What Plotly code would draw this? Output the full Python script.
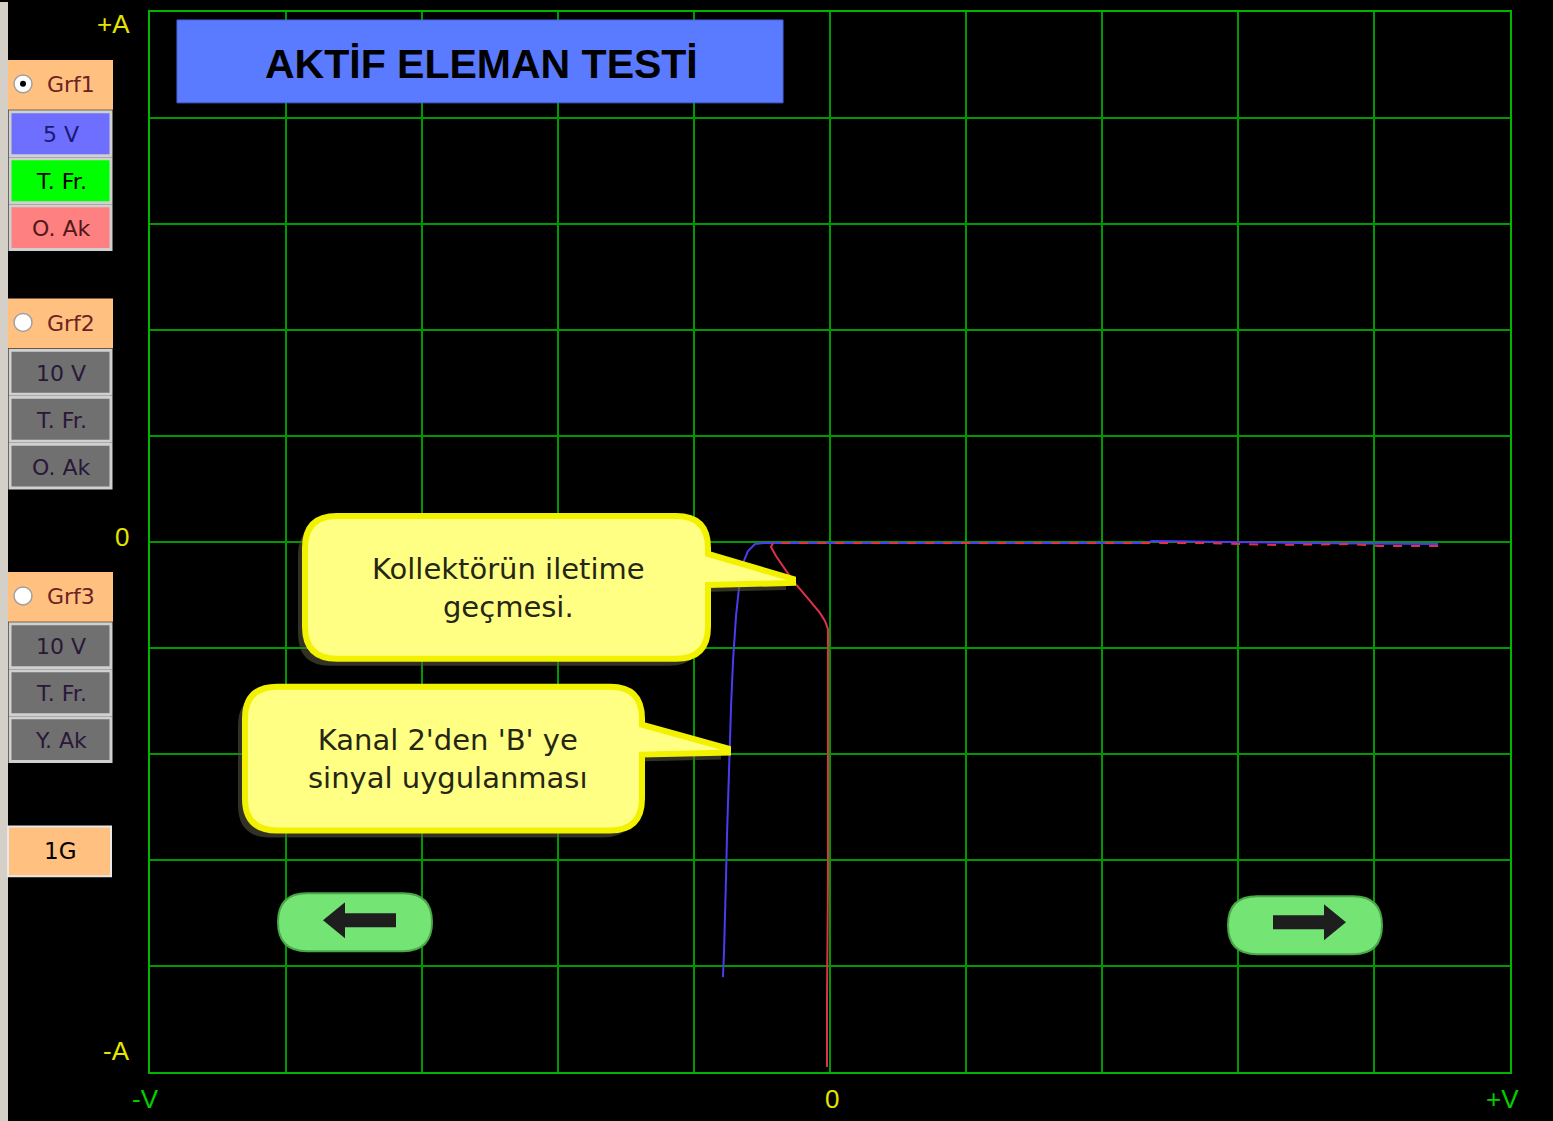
import plotly.graph_objects as go

# ---------------- data (in screen divisions: V / div, A / div) ----------------
blue_v = [4.471, 3.456, 2.368, 2.324, 1.25, 0.515, -0.221, -0.478, -0.551, -0.603, -0.640,
          -0.669, -0.691, -0.706, -0.713, -0.728, -0.743, -0.757, -0.765, -0.772, -0.779, -0.787]
blue_i = [-0.019, -0.009, 0.009, -0.009, -0.009, -0.009, -0.009, -0.009, -0.019, -0.085, -0.198,
          -0.433, -0.697, -0.932, -1.121, -1.563, -2.128, -2.750, -3.192, -3.597, -3.851, -4.105]

red_v = [4.471, 4.044, 3.824, 3.279, 2.721, 1.25, 0.515, -0.221, -0.419, -0.434, -0.397,
         -0.346, -0.272, -0.147, -0.074, -0.037, -0.015, -0.015, -0.015, -0.022, -0.022]
red_i = [-0.038, -0.038, -0.019, -0.028, -0.009, -0.009, -0.009, -0.009, -0.009, -0.047, -0.132,
         -0.226, -0.367, -0.556, -0.669, -0.744, -0.819, -1.497, -3.192, -4.322, -4.953]
red_flat_n = 9

x_ticks = [-5, 0, 5]
x_tick_labels = ["-V", "0", "+V"]
y_ticks = [5, 0, -5]
y_tick_labels = ["+A", "0", "-A"]

title_text = "AKTİF ELEMAN TESTİ"
callout1 = "Kollektörün iletime<br>geçmesi."
callout2 = "Kanal 2'den 'B' ye<br>sinyal uygulanması"

panel_groups = ["Grf1", "Grf2", "Grf3"]
panel_rows = [["5 V", "T. Fr.", "O. Ak"], ["10 V", "T. Fr.", "O. Ak"], ["10 V", "T. Fr.", "Y. Ak"]]
button_label = "1G"

# ---------------- geometry helpers (pixel -> paper) ----------------
W, H = 1553, 1121
L, R, T, B = 150, 1510, 10, 1072


def px(x):
    return (x - L) / (R - L)


def py(y):
    return (B - y) / (B - T)


def path_from(points_cmds):
    out = []
    for item in points_cmds:
        if isinstance(item, str):
            out.append(item)
        else:
            out.append(f"{px(item[0]):.5f},{py(item[1]):.5f}")
    return " ".join(out)


def rrect(x0, y0, x1, y1, r):
    return path_from(["M", (x0 + r, y0), "L", (x1 - r, y0), "Q", (x1, y0), (x1, y0 + r),
                      "L", (x1, y1 - r), "Q", (x1, y1), (x1 - r, y1),
                      "L", (x0 + r, y1), "Q", (x0, y1), (x0, y1 - r),
                      "L", (x0, y0 + r), "Q", (x0, y0), (x0 + r, y0), "Z"])


def callout(x0, y0, x1, y1, r, pt_top, tip, pt_bot):
    return path_from(["M", (x0 + r, y0), "L", (x1 - r, y0), "Q", (x1, y0), (x1, y0 + r),
                      "L", (x1, pt_top), "L", tip, "L", (tip[0], tip[1] + 4), "L", (x1, pt_bot),
                      "L", (x1, y1 - r), "Q", (x1, y1), (x1 - r, y1),
                      "L", (x0 + r, y1), "Q", (x0, y1), (x0, y1 - r),
                      "L", (x0, y0 + r), "Q", (x0, y0), (x0 + r, y0), "Z"])


def poly(pts):
    cmds = ["M", pts[0]]
    for p in pts[1:]:
        cmds += ["L", p]
    cmds.append("Z")
    return path_from(cmds)


def rect(x0, y0, x1, y1, fill, line=None, lw=0):
    d = dict(type="rect", xref="paper", yref="paper", x0=px(x0), x1=px(x1), y0=py(y1), y1=py(y0),
             fillcolor=fill, layer="above")
    d["line"] = dict(color=line or fill, width=lw)
    return d


shapes = []
annotations = []

# left gray strip
shapes.append(rect(0, 0, 8, H, "#d4d0c8"))

# left panel
peach = "#ffc080"
grp_tops = [58, 297, 571]
row_fills = [["#6e6eff", "#00ff00", "#ff8080"], ["#707070"] * 3, ["#707070"] * 3]
row_txt = [["#1a1a70", "#000000", "#501818"], ["#2a1838"] * 3, ["#2a1838"] * 3]
for g, top in enumerate(grp_tops):
    shapes.append(rect(8, top, 113, top + 50, peach))
    shapes.append(dict(type="circle", xref="paper", yref="paper", x0=px(14), x1=px(32),
                       y0=py(top + 33), y1=py(top + 15), fillcolor="#ffffff", layer="above",
                       line=dict(color="#a0a0a0", width=1.5)))
    if g == 0:
        shapes.append(dict(type="circle", xref="paper", yref="paper", x0=px(20), x1=px(26),
                           y0=py(top + 27), y1=py(top + 21), fillcolor="#000000", layer="above",
                           line=dict(color="#000000", width=0)))
    annotations.append(dict(text=panel_groups[g], xref="paper", yref="paper", x=px(71), y=py(top + 25),
                            showarrow=False, font=dict(family="DejaVu Sans", size=22, color="#6a2424"),
                            xanchor="center", yanchor="middle"))
    for k in range(3):
        y0 = top + 52 + k * 47
        shapes.append(rect(10, y0, 111, y0 + 44, row_fills[g][k], "#d0d0d0", 3))
        annotations.append(dict(text=panel_rows[g][k], xref="paper", yref="paper", x=px(61), y=py(y0 + 23),
                                showarrow=False, font=dict(family="DejaVu Sans", size=22, color=row_txt[g][k]),
                                xanchor="center", yanchor="middle"))

shapes.append(rect(8, 826, 111, 876, peach, "#e8e8e8", 2))
annotations.append(dict(text=button_label, xref="paper", yref="paper", x=px(60), y=py(851),
                        showarrow=False, font=dict(family="DejaVu Sans", size=23, color="#000000"),
                        xanchor="center", yanchor="middle"))

# title box
shapes.append(rect(177, 18, 783, 101, "#5a7aff", "#4a64e0", 1))
annotations.append(dict(text=f"<b>{title_text}</b>", xref="paper", yref="paper", x=px(481), y=py(62),
                        showarrow=False, font=dict(family="Liberation Sans", size=41, color="#000000"),
                        xanchor="center", yanchor="middle"))

# callouts (shadow, then body)
c1 = (305, 515, 708, 658, 32, 553, (793, 578), 584)
c2 = (245, 686, 642, 830, 32, 724, (728, 748), 754)
for c in (c1, c2):
    x0, y0, x1, y1, r, pt, tip, pb = c
    shapes.append(dict(type="path", xref="paper", yref="paper", layer="above",
                       path=callout(x0 - 7, y0 + 7, x1 - 7, y1 + 7, r, pt + 7, (tip[0] - 7, tip[1] + 7), pb + 7),
                       fillcolor="rgba(90,90,70,0.55)", line=dict(width=0)))
    shapes.append(dict(type="path", xref="paper", yref="paper", layer="above",
                       path=callout(x0, y0, x1, y1, r, pt, tip, pb),
                       fillcolor="#ffff84", line=dict(color="#f2f200", width=6)))
annotations.append(dict(text=callout1, xref="paper", yref="paper", x=px(508), y=py(587),
                        showarrow=False, font=dict(family="DejaVu Sans", size=29, color="#262614"),
                        xanchor="center", yanchor="middle"))
annotations.append(dict(text=callout2, xref="paper", yref="paper", x=px(447), y=py(758),
                        showarrow=False, font=dict(family="DejaVu Sans", size=29, color="#262614"),
                        xanchor="center", yanchor="middle"))

# navigation buttons
for (x0, y0, x1, y1) in [(278, 893, 432, 951), (1228, 896, 1382, 954)]:
    shapes.append(dict(type="path", xref="paper", yref="paper", layer="above",
                       path=rrect(x0, y0, x1, y1, 29), fillcolor="#74e474",
                       line=dict(color="#48a848", width=2)))
# left arrow
shapes.append(dict(type="path", xref="paper", yref="paper", layer="above",
                   path=poly([(323, 920), (345, 902), (345, 913), (396, 913), (396, 927), (345, 927), (345, 938)]),
                   fillcolor="#1e1e1e", line=dict(width=0)))
# right arrow
shapes.append(dict(type="path", xref="paper", yref="paper", layer="above",
                   path=poly([(1346, 922), (1324, 904), (1324, 915), (1273, 915), (1273, 929), (1324, 929), (1324, 940)]),
                   fillcolor="#1e1e1e", line=dict(width=0)))

# axis labels
lab_font = dict(family="Liberation Sans", size=26)
for v, t in zip(y_ticks, y_tick_labels):
    yy = {5: 22, 0: 536, -5: 1051}[v]
    xx = {5: 113, 0: 122, -5: 116}[v]
    annotations.append(dict(text=t, xref="paper", yref="paper", x=px(xx), y=py(yy), showarrow=False,
                            font=lab_font | dict(color="#e4e400"), xanchor="center", yanchor="middle"))
for v, t in zip(x_ticks, x_tick_labels):
    xx = {-5: 145, 0: 832, 5: 1502}[v]
    col = "#e4e400" if v == 0 else "#00d000"
    annotations.append(dict(text=t, xref="paper", yref="paper", x=px(xx), y=py(1099), showarrow=False,
                            font=lab_font | dict(color=col), xanchor="center", yanchor="middle"))

fig = go.Figure()
fig.add_trace(go.Scatter(x=blue_v, y=blue_i, mode="lines", line=dict(color="#4a3cf0", width=2),
                         hoverinfo="skip", showlegend=False))
fig.add_trace(go.Scatter(x=red_v[:red_flat_n], y=red_i[:red_flat_n], mode="lines",
                         line=dict(color="#e0304a", width=2, dash="dash"), hoverinfo="skip", showlegend=False))
fig.add_trace(go.Scatter(x=red_v[red_flat_n - 1:], y=red_i[red_flat_n - 1:], mode="lines",
                         line=dict(color="#e0304a", width=2), hoverinfo="skip", showlegend=False))

grid = "#009a00"
fig.update_layout(
    width=W, height=H,
    margin=dict(l=L, r=W - R, t=T, b=H - B, pad=0),
    paper_bgcolor="#000000", plot_bgcolor="#000000",
    xaxis=dict(range=[-5, 5], dtick=1, tick0=-5, showgrid=True, gridcolor=grid, gridwidth=2,
               zeroline=True, zerolinecolor=grid, zerolinewidth=2, showticklabels=False, ticks="",
               showline=True, mirror=True, linecolor="#00b400", linewidth=2, fixedrange=True),
    yaxis=dict(range=[-5, 5], dtick=1, tick0=-5, showgrid=True, gridcolor=grid, gridwidth=2,
               zeroline=True, zerolinecolor=grid, zerolinewidth=2, showticklabels=False, ticks="",
               showline=True, mirror=True, linecolor="#00b400", linewidth=2, fixedrange=True),
    shapes=shapes, annotations=annotations, showlegend=False,
)

fig.write_html(
    "out.html",
    config={"displayModeBar": False},
    post_script="document.body.style.margin='0';document.body.style.background='#000';"
                "document.body.style.overflow='hidden';",
)
